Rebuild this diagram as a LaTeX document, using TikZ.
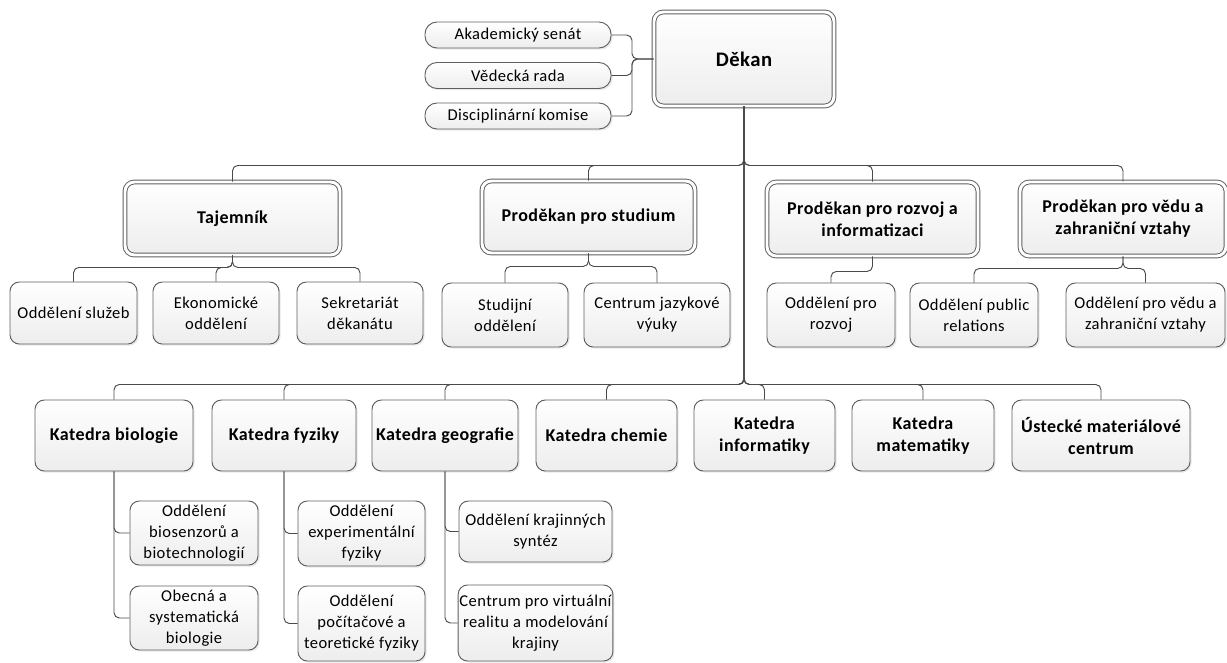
\documentclass[tikz,border=0pt]{standalone}
\usepackage{fontspec}
\setmainfont{Carlito}[LetterSpace=2.5]
\usetikzlibrary{shadows}
\definecolor{boxline}{HTML}{5F5F5F}
\definecolor{wire}{HTML}{4A4A4A}
\tikzset{
  box/.style={draw=boxline,line width=.7pt,rounded corners=7pt,top color=white,bottom color=black!7,
    align=center,inner sep=1pt,font=\fontsize{12.4}{15.8}\selectfont,
    drop shadow={shadow xshift=1.2pt,shadow yshift=-1.2pt,opacity=.18}},
  unit/.style={box,font=\bfseries\fontsize{13.5}{16.5}\selectfont},
  head/.style={unit,double=white,double distance=2.2pt},
  pill/.style={box,rounded corners=9pt},
  wh/.style 2 args={minimum width=#1*.75pt,minimum height=#2*.75pt},
  conn/.style={draw=wire,line width=.7pt,rounded corners=4pt},
}
\begin{document}
\begin{tikzpicture}[x=.75pt,y=-.75pt]
  \useasboundingbox (0,0) rectangle (1227,662);
  % vedeni
  \node[head,wh={180}{94},font=\bfseries\fontsize{15.5}{18}\selectfont] (dekan) at (744,59) {Děkan};
  \node[pill,wh={186}{26}] (senat) at (518,35) {Akademický senát};
  \node[pill,wh={186}{26}] (rada) at (518,75.5) {Vědecká rada};
  \node[pill,wh={186}{26}] (komise) at (518,116) {Disciplinární komise};
  \node[head,wh={215}{73}] (taj) at (232.5,218.5) {Tajemník};
  \node[head,wh={213}{72}] (stud) at (588.5,217) {Proděkan pro studium};
  \node[head,wh={211}{74}] (rozv) at (872.5,219) {Proděkan pro rozvoj a\\informatizaci};
  \node[head,wh={206}{74}] (veda) at (1123,219) {Proděkan pro vědu a\\zahraniční vztahy};
  % oddeleni
  \node[box,wh={127}{62}] (sluzby) at (73.5,313) {Oddělení služeb};
  \node[box,wh={126}{62}] (ekon) at (216,313) {Ekonomické\\oddělení};
  \node[box,wh={126}{62}] (sekr) at (360,313) {Sekretariát\\děkanátu};
  \node[box,wh={126}{64}] (studod) at (505,315) {Studijní\\oddělení};
  \node[box,wh={146}{64}] (jazyk) at (657,315) {Centrum jazykové\\výuky};
  \node[box,wh={128}{64}] (rozvod) at (831,315) {Oddělení pro\\rozvoj};
  \node[box,wh={128}{64}] (pr) at (974,315) {Oddělení public\\relations};
  \node[box,wh={159}{64}] (vedod) at (1145.5,315) {Oddělení pro vědu a\\zahraniční vztahy};
  % katedry
  \node[unit,wh={158}{71}] (bio) at (114,435.5) {Katedra biologie};
  \node[unit,wh={144}{71}] (fyz) at (284,435.5) {Katedra fyziky};
  \node[unit,wh={146}{71}] (geo) at (445,435.5) {Katedra geografie};
  \node[unit,wh={141}{71}] (chem) at (606.5,435.5) {Katedra chemie};
  \node[unit,wh={141}{71}] (inf) at (764.5,435.5) {Katedra\\informatiky};
  \node[unit,wh={142}{71}] (mat) at (923,435.5) {Katedra\\matematiky};
  \node[unit,wh={178}{71}] (umc) at (1101,435.5) {Ústecké materiálové\\centrum};
  \node[box,wh={128}{64}] (bio1) at (194,533) {Oddělení\\biosenzorů a\\biotechnologií};
  \node[box,wh={128}{64}] (bio2) at (194,618) {Obecná a\\systematická\\biologie};
  \node[box,wh={127}{65}] (fyz1) at (361.5,533.5) {Oddělení\\experimentální\\fyziky};
  \node[box,wh={127}{75}] (fyz2) at (361.5,623.5) {Oddělení\\počítačové a\\teoretické fyziky};
  \node[box,wh={153}{61}] (geo1) at (535.5,531.5) {Oddělení krajinných\\syntéz};
  \node[box,wh={153}{76}] (geo2) at (535.5,623) {Centrum pro virtuální\\realitu a modelování\\krajiny};

  % spoje
  \foreach \k in {senat,rada,komise}
    \draw[conn] (\k.east) -| (632,59) -- (dekan.west);
  \foreach \k in {taj,stud,rozv,veda}
    \draw[conn] (dekan.south) -- ++(0,59) -| (\k.north);
  \foreach \k in {bio,fyz,geo,chem,inf,mat,umc}
    \draw[conn] (dekan.south) -- ++(0,278) -| (\k.north);
  \foreach \k in {sluzby,ekon,sekr}
    \draw[conn] (taj.south) -- ++(0,12) -| (\k.north);
  \foreach \k in {studod,jazyk}
    \draw[conn] (stud.south) -- ++(0,13) -| (\k.north);
  \draw[conn] (rozv.south) -- ++(0,15) -| (rozvod.north);
  \foreach \k in {pr,vedod}
    \draw[conn] (veda.south) -- ++(0,12) -| (\k.north);
  \foreach \k in {bio,fyz,geo}{
    \draw[conn] (\k.south) |- (\k1.west);
    \draw[conn] (\k.south) |- (\k2.west);}
\end{tikzpicture}
\end{document}
